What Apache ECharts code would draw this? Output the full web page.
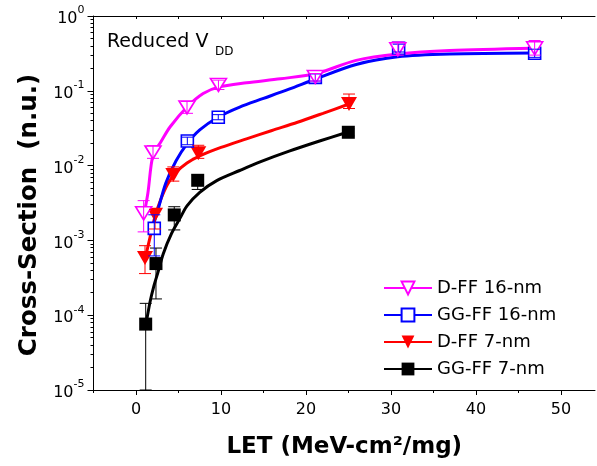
<!DOCTYPE html>
<html>
<head>
<meta charset="utf-8">
<script src="https://cdn.jsdelivr.net/npm/echarts@6/dist/echarts.min.js"></script>
<style>
  html, body { margin: 0; padding: 0; background: #fff; }
  #chart { width: 597px; height: 466px; }
</style>
</head>
<body>
<div id="chart"></div>
<script>
// ---- Measured points: LET (MeV-cm2/mg) vs normalized cross-section ----
const dff16X  = [0.9, 2.0, 6.0, 9.7, 21.1, 30.8, 46.9];
const dff16Y  = [2.3e-3, 0.015, 0.060, 0.12, 0.153, 0.359, 0.37];
const dff16Lo = [1.3e-3, 0.0125, 0.050, 0.104, 0.135, 0.30, 0.30];
const dff16Hi = [3.4e-3, 0.0185, 0.072, 0.139, 0.17, 0.45, 0.47];

const gg16X  = [2.15, 6.04, 9.68, 21.1, 30.9, 46.9];
const gg16Y  = [1.45e-3, 0.0213, 0.0442, 0.151, 0.37, 0.317];
const gg16Lo = [6.2e-4, 0.019, 0.041, 0.135, 0.33, 0.28];
const gg16Hi = [2.2e-3, 0.024, 0.048, 0.168, 0.42, 0.36];

const dff7X  = [1.06, 2.24, 4.39, 7.33, 25.06];
const dff7Y  = [5.8e-4, 2.2e-3, 7.5e-3, 0.0146, 0.0666];
const dff7Lo = [3.6e-4, 1.42e-3, 6.2e-3, 0.0125, 0.058];
const dff7Hi = [8.5e-4, 2.6e-3, 9.6e-3, 0.0187, 0.0905];

const gg7X  = [1.14, 2.35, 4.5, 7.26, 24.98];
const gg7Y  = [7.6e-5, 4.9e-4, 2.19e-3, 6.36e-3, 0.0279];
const gg7Lo = [1e-5, 1.65e-4, 1.38e-3, 4.8e-3, 0.025];
const gg7Hi = [1.44e-4, 7.9e-4, 2.82e-3, 7.5e-3, 0.031];

// ---- Fitted curves ----
const dff16FitX = [0.94, 1.4, 2.0, 2.9, 4.0, 6.0, 7.9, 9.7, 13.0, 17.0, 21.2, 25.9, 30.8, 36.9, 46.8];
const dff16FitY = [2.19e-3, 4.3e-3, 0.0139, 0.0205, 0.0328, 0.0607, 0.092, 0.112, 0.128, 0.145, 0.17, 0.255, 0.31, 0.345, 0.37];

const gg16FitX = [2.0, 2.6, 3.5, 4.7, 6.0, 7.5, 9.7, 12.2, 15.0, 18.0, 21.2, 25.9, 30.8, 36.9, 46.8];
const gg16FitY = [1.56e-3, 2.6e-3, 5.8e-3, 0.0115, 0.0195, 0.03, 0.0447, 0.0607, 0.079, 0.105, 0.145, 0.225, 0.285, 0.31, 0.32];

const dff7FitX = [1.18, 1.65, 2.24, 2.9, 3.7, 4.6, 6.0, 7.5, 10.0, 13.0, 16.0, 19.0, 22.0, 25.06];
const dff7FitY = [6.4e-4, 1.1e-3, 2.1e-3, 3.5e-3, 5.6e-3, 7.9e-3, 0.0108, 0.0135, 0.0175, 0.0228, 0.0295, 0.038, 0.05, 0.0666];

const gg7FitX = [1.18, 1.65, 2.1, 2.6, 3.2, 4.2, 5.2, 6.0, 7.5, 9.5, 12.2, 14.6, 18.1, 21.6, 24.94];
const gg7FitY = [7.6e-5, 1.5e-4, 2.45e-4, 3.8e-4, 6.6e-4, 1.25e-3, 2.0e-3, 2.9e-3, 4.4e-3, 6.3e-3, 8.6e-3, 0.0112, 0.0157, 0.0213, 0.0281];

// ---- Axis ticks ----
const xMajorTicks = [0, 10, 20, 30, 40, 50];
const xMinorTicks = [-5, 5, 15, 25, 35, 45];
const xTopTicks   = [-5, 0, 5, 10, 15, 20, 25, 30, 35, 40, 45, 50];
const yDecades    = [1e-5, 1e-4, 1e-3, 1e-2, 1e-1, 1];

const seriesNames = ['D-FF 16-nm', 'GG-FF 16-nm', 'D-FF 7-nm', 'GG-FF 7-nm'];

const FONT = 'DejaVu Sans';

// minor log ticks 2..9 within each decade
const yMinorTicks = [];
for (let d = 0; d < yDecades.length - 1; d++) {
  for (let k = 2; k <= 9; k++) yMinorTicks.push(+(k * yDecades[d]).toPrecision(3));
}

const zip = (a, b) => a.map((v, i) => [v, b[i]]);

function errRenderer(color) {
  return function (params, api) {
    const x = api.value(0);
    const pLo = api.coord([x, api.value(1)]);
    const pHi = api.coord([x, api.value(2)]);
    const w = 6;
    const st = { stroke: color, lineWidth: 1 };
    return {
      type: 'group',
      children: [
        { type: 'line', shape: { x1: pLo[0], y1: pLo[1], x2: pHi[0], y2: pHi[1] }, style: st },
        { type: 'line', shape: { x1: pLo[0] - w, y1: pLo[1], x2: pLo[0] + w, y2: pLo[1] }, style: st },
        { type: 'line', shape: { x1: pHi[0] - w, y1: pHi[1], x2: pHi[0] + w, y2: pHi[1] }, style: st }
      ]
    };
  };
}

const groups = [
  { name: seriesNames[3], color: '#000000', symbol: 'rect', rotate: 0, size: 13, open: false,
    x: gg7X, y: gg7Y, lo: gg7Lo, hi: gg7Hi, fx: gg7FitX, fy: gg7FitY },
  { name: seriesNames[2], color: '#ff0000', symbol: 'triangle', rotate: 180, size: [16, 14], open: false,
    x: dff7X, y: dff7Y, lo: dff7Lo, hi: dff7Hi, fx: dff7FitX, fy: dff7FitY },
  { name: seriesNames[1], color: '#0000ff', symbol: 'rect', rotate: 0, size: 12, open: true,
    x: gg16X, y: gg16Y, lo: gg16Lo, hi: gg16Hi, fx: gg16FitX, fy: gg16FitY },
  { name: seriesNames[0], color: '#ff00ff', symbol: 'triangle', rotate: 180, size: [16, 13], open: true,
    x: dff16X, y: dff16Y, lo: dff16Lo, hi: dff16Hi, fx: dff16FitX, fy: dff16FitY }
];

const markerStyle = g => g.open
  ? { color: '#ffffff', borderColor: g.color, borderWidth: 1.6, opacity: 1 }
  : { color: g.color, opacity: 1 };

const series = [];
// fitted curves first (legend icons are taken from these)
groups.forEach((g, i) => series.push({
  type: 'line', name: g.name, data: zip(g.fx, g.fy),
  smooth: 0.3, showSymbol: false,
  symbol: g.symbol, symbolRotate: g.rotate,
  lineStyle: { color: g.color, width: 3 },
  itemStyle: markerStyle(g),
  z: 2 + i * 0.01, silent: true
}));
groups.forEach((g, i) => series.push({
  type: 'scatter', name: g.name, data: zip(g.x, g.y),
  symbol: g.symbol, symbolRotate: g.rotate, symbolSize: g.size,
  itemStyle: markerStyle(g),
  z: 3 + i * 0.01, silent: true
}));
groups.forEach((g, i) => series.push({
  type: 'custom', name: g.name,
  data: g.x.map((v, k) => [v, g.lo[k], g.hi[k]]),
  encode: { x: 0, y: [1, 2] },
  renderItem: errRenderer(g.color),
  clip: true, z: 4 + i * 0.01, silent: true
}));

const axisLine = { show: true, onZero: false, lineStyle: { color: '#000', width: 1 } };

const option = {
  animation: false,
  backgroundColor: '#fff',
  textStyle: { fontFamily: FONT },
  grid: { left: 93.5, right: 2, top: 16, bottom: 76, containLabel: false },
  legend: {
    data: seriesNames,
    orient: 'vertical',
    left: 383, top: 279, padding: 0,
    itemWidth: 48, itemHeight: 16, itemGap: 9,
    textStyle: { fontFamily: FONT, fontSize: 18, color: '#000' },
    selectedMode: false
  },
  xAxis: [
    {
      type: 'value', position: 'bottom', min: -5, max: 54,
      axisLine,
      axisTick: { show: true, inside: false, length: 5, customValues: xMajorTicks, lineStyle: { color: '#000' } },
      axisLabel: { customValues: xMajorTicks, color: '#000', fontSize: 16, fontFamily: FONT, margin: 12 },
      splitLine: { show: false },
      name: 'LET (MeV-cm\u00b2/mg)', nameLocation: 'middle', nameGap: 46,
      nameTextStyle: { fontFamily: FONT, fontWeight: 'bold', fontSize: 23, color: '#000' }
    },
    {
      type: 'value', position: 'bottom', min: -5, max: 54,
      axisLine: { show: false, onZero: false },
      axisTick: { show: true, inside: false, length: 3, customValues: xMinorTicks, lineStyle: { color: '#000' } },
      axisLabel: { show: false }, splitLine: { show: false }
    },
    {
      type: 'value', position: 'top', min: -5, max: 54,
      axisLine,
      axisTick: { show: true, inside: true, length: 3, customValues: xTopTicks, lineStyle: { color: '#000' } },
      axisLabel: { show: false }, splitLine: { show: false }
    }
  ],
  yAxis: [
    {
      type: 'log', logBase: 10, min: 1e-5, max: 1, position: 'left',
      axisLine,
      axisTick: { show: true, inside: false, length: 6, customValues: yDecades, lineStyle: { color: '#000' } },
      axisLabel: {
        customValues: yDecades,
        margin: 9,
        formatter: v => '{b|10}{s|' + Math.round(Math.log10(v)) + '}',
        rich: {
          b: { fontFamily: FONT, fontSize: 16, color: '#000', lineHeight: 22, verticalAlign: 'bottom' },
          s: { fontFamily: FONT, fontSize: 11, color: '#000', lineHeight: 22, verticalAlign: 'top' }
        }
      },
      splitLine: { show: false },
      name: 'Cross-Section  (n.u.)', nameLocation: 'middle', nameGap: 51, nameRotate: 90,
      nameTextStyle: { fontFamily: FONT, fontWeight: 'bold', fontSize: 24.5, color: '#000', padding: [0, 24, 0, 0] }
    },
    {
      type: 'log', logBase: 10, min: 1e-5, max: 1, position: 'left',
      axisLine: { show: false, onZero: false },
      axisTick: { show: true, inside: false, length: 3, customValues: yMinorTicks, lineStyle: { color: '#000' } },
      axisLabel: { show: false }, splitLine: { show: false }
    }
  ],
  graphic: [
    { type: 'text', x: 107, y: 33, silent: true,
      style: { text: 'Reduced V', font: '19px "DejaVu Sans"', fill: '#000', align: 'left', verticalAlign: 'top' } },
    { type: 'text', x: 215, y: 46, silent: true,
      style: { text: 'DD', font: '12px "DejaVu Sans"', fill: '#000', align: 'left', verticalAlign: 'top' } }
  ],
  series
};

const chart = echarts.init(document.getElementById('chart'), null, { renderer: 'canvas' });
chart.setOption(option);
</script>
</body>
</html>
